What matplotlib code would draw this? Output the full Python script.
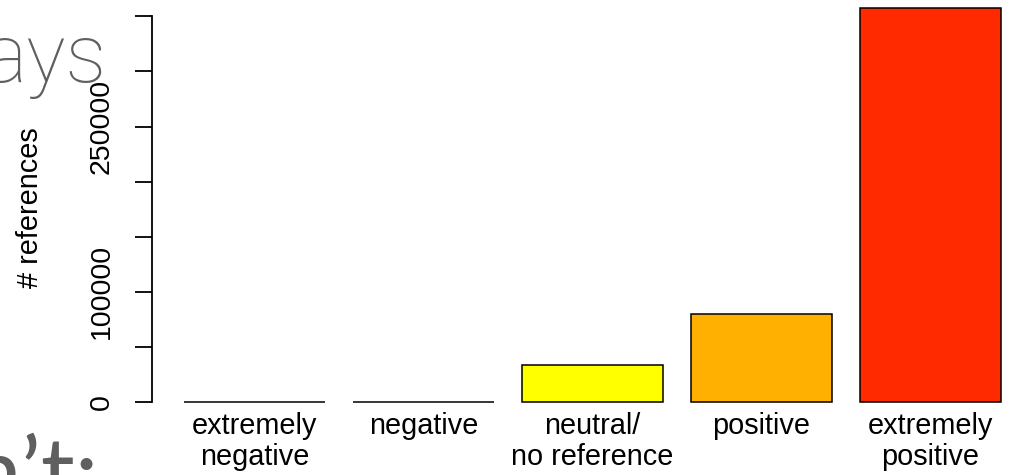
import matplotlib
matplotlib.use("Agg")
import matplotlib.pyplot as plt

# Counts of references per sentiment class
categories = ["extremely\nnegative", "negative", "neutral/\nno reference",
              "positive", "extremely\npositive"]
counts = [300, 400, 33600, 80000, 357500]
bar_colors = ["#BFBFBF", "#D9D9D9", "#FFFF00", "#FFB000", "#FF2A00"]

y_ticks = [0, 50000, 100000, 150000, 200000, 250000, 300000, 350000]
y_tick_labels = ["0", "", "100000", "", "", "250000", "", ""]

W, H, DPI = 1009, 475, 100
fig = plt.figure(figsize=(W / DPI, H / DPI), dpi=DPI, facecolor="white")

# pixel geometry of the plotting region
left_px, right_px = 152, W
top_px, bottom_px = 0, 405
ax = fig.add_axes([left_px / W, (H - bottom_px) / H,
                   (right_px - left_px) / W, (bottom_px - top_px) / H])

units_per_px = 50000 / 55.1
zero_px = 402
ax.set_ylim(-(bottom_px - zero_px) * units_per_px, (zero_px - top_px) * units_per_px)

px_per_unit = 140.8
x_left = 0.2 - 32 / px_per_unit
ax.set_xlim(x_left, x_left + (right_px - left_px) / px_per_unit)

centers = [0.7 + 1.2 * i for i in range(len(counts))]
ax.bar(centers, counts, width=1.0, color=bar_colors, edgecolor="black",
       linewidth=1.1, clip_on=False)

for s in ["top", "right", "bottom"]:
    ax.spines[s].set_visible(False)
ax.spines["left"].set_bounds(0, 350000)
ax.spines["left"].set_linewidth(1.3)

ax.set_yticks(y_ticks)
ax.set_yticklabels(y_tick_labels, rotation=90, va="center", ha="right",
                   fontsize=20.5, family="Liberation Sans")
ax.tick_params(axis="y", length=12, width=1.3, pad=15)

ax.set_xticks(centers)
ax.set_xticklabels(categories, fontsize=20.8, family="Liberation Sans",
                   linespacing=1.12)
ax.tick_params(axis="x", length=0, pad=5)

fig.text(30 / W, 1 - 208 / H, "# references", rotation=90, ha="center",
         va="center", fontsize=20.8, family="Liberation Sans")

# slide text behind the chart
fig.text(107 / W, 1 - 82 / H, "ays", ha="right", va="baseline",
         fontsize=59, family="Roboto", fontweight="light", color="#5f5f5f")
fig.text(99 / W, 1 - 504 / H, "n\u2019t:", ha="right", va="baseline",
         fontsize=68, family="Lato", color="#5f5f5f")

fig.savefig("out.png", dpi=DPI, facecolor="white")
